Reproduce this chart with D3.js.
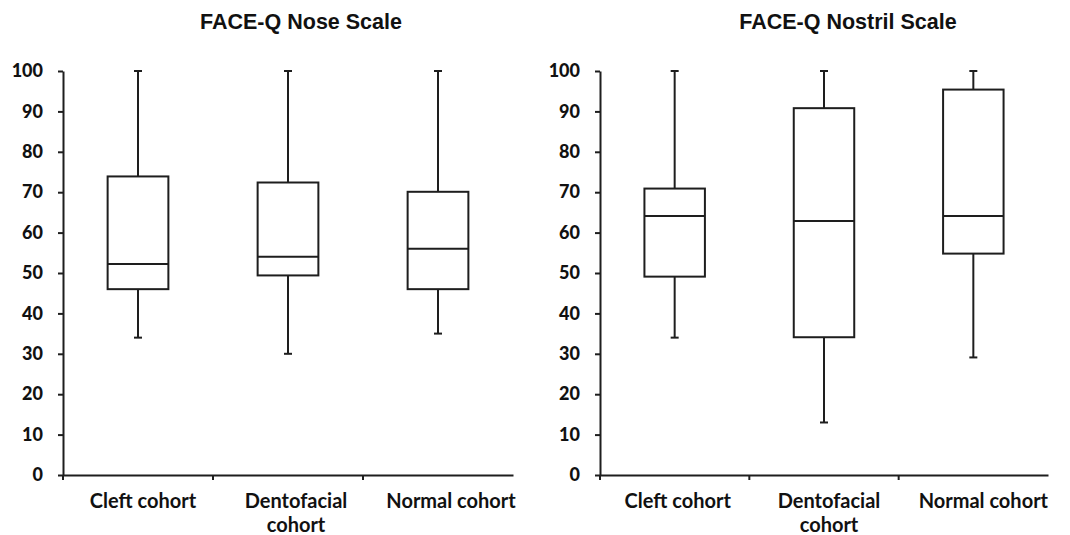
<!DOCTYPE html>
<html><head><meta charset="utf-8">
<script src="https://cdn.jsdelivr.net/npm/d3@7"></script>
<style>
body{margin:0;background:#fff;}
svg text{fill:#111;}
</style></head>
<body>
<svg id="chart" width="1070" height="535"></svg>
<script>
const categories = ["Cleft cohort", "Dentofacial cohort", "Normal cohort"];
const yTicks = [0,10,20,30,40,50,60,70,80,90,100];

// FACE-Q Nose Scale
const noseMin    = [34, 30, 35];
const noseQ1     = [46, 49.4, 46];
const noseMedian = [52.2, 54, 56];
const noseQ3     = [73.9, 72.4, 70.1];
const noseMax    = [100, 100, 100];

// FACE-Q Nostril Scale
const nostrilMin    = [34, 13, 29.1];
const nostrilQ1     = [49.1, 34.1, 54.8];
const nostrilMedian = [64.1, 62.9, 64.1];
const nostrilQ3     = [70.9, 90.8, 95.4];
const nostrilMax    = [100, 100, 100];

const svg = d3.select("#chart");
const stroke = "#1e1e1e";

function panel(opts){
  const {x0, x1, title, titleX, labelShift, mins, q1s, meds, q3s, maxs} = opts;
  const y = d3.scaleLinear().domain([0,100]).range([475, 71]);
  const x = d3.scaleBand().domain(categories).range([x0, x1]).paddingInner(0).paddingOuter(0);
  const g = svg.append("g");

  // title
  g.append("text").attr("x", titleX).attr("y", 29).attr("text-anchor","middle")
    .style("font-family","'Liberation Sans', Arial, sans-serif").style("font-weight","bold")
    .style("font-size","21.5px").text(title);

  // y axis
  const yAxis = d3.axisLeft(y).tickValues(yTicks).tickSize(5).tickPadding(15).tickSizeOuter(0);
  const ya = g.append("g").attr("transform",`translate(${x0},0)`).call(yAxis);
  ya.select(".domain").attr("stroke",stroke).attr("stroke-width",2);
  ya.selectAll(".tick line").attr("stroke",stroke).attr("stroke-width",2);
  ya.selectAll(".tick text").style("font-family","Lato, 'Open Sans', sans-serif")
    .style("font-weight","900").style("font-size","18px").attr("fill","#111");
  // y-axis extension below x axis
  g.append("line").attr("x1",x0).attr("x2",x0).attr("y1",y(0)).attr("y2",y(0)+5)
    .attr("stroke",stroke).attr("stroke-width",2);

  // x axis
  const xAxis = d3.axisBottom(x).tickSize(0).tickPadding(19).tickSizeOuter(0);
  const xa = g.append("g").attr("transform",`translate(0,${y(0)})`).call(xAxis);
  xa.select(".domain").attr("stroke",stroke).attr("stroke-width",2);
  xa.selectAll(".tick text").style("font-family","Lato, 'Open Sans', sans-serif")
    .style("font-weight","bold").style("font-size","20px").attr("fill","#111")
    .each(function(d,i){
      const t = d3.select(this);
      t.attr("x", labelShift[i]);
      if (d === "Dentofacial cohort") {
        t.text(null);
        t.append("tspan").attr("x",labelShift[i]).attr("dy","0.71em").text("Dentofacial");
        t.append("tspan").attr("x",labelShift[i]).attr("dy","1.2em").text("cohort");
        t.attr("dy", null);
      }
    });
  // category boundary ticks
  categories.slice(1).forEach(c => {
    g.append("line").attr("x1",x(c)).attr("x2",x(c)).attr("y1",y(0)).attr("y2",y(0)+5)
      .attr("stroke",stroke).attr("stroke-width",2);
  });

  const bw = x.bandwidth()*0.405;
  const capW = 8;
  categories.forEach((c,i) => {
    const cx = x(c) + x.bandwidth()/2;
    // whiskers
    g.append("line").attr("x1",cx).attr("x2",cx).attr("y1",y(maxs[i])).attr("y2",y(q3s[i]))
      .attr("stroke",stroke).attr("stroke-width",2);
    g.append("line").attr("x1",cx).attr("x2",cx).attr("y1",y(q1s[i])).attr("y2",y(mins[i]))
      .attr("stroke",stroke).attr("stroke-width",2);
    [maxs[i], mins[i]].forEach(v => {
      g.append("line").attr("x1",cx-capW/2).attr("x2",cx+capW/2).attr("y1",y(v)).attr("y2",y(v))
        .attr("stroke",stroke).attr("stroke-width",2);
    });
    // box
    g.append("rect").attr("x",cx-bw/2).attr("y",y(q3s[i])).attr("width",bw)
      .attr("height",y(q1s[i])-y(q3s[i])).attr("fill","#fff").attr("stroke",stroke).attr("stroke-width",2);
    // median
    g.append("line").attr("x1",cx-bw/2).attr("x2",cx+bw/2).attr("y1",y(meds[i])).attr("y2",y(meds[i]))
      .attr("stroke",stroke).attr("stroke-width",2);
  });
}

panel({x0:63, x1:513, title:"FACE-Q Nose Scale", titleX:301, labelShift:[5,8,13],
  mins:noseMin, q1s:noseQ1, meds:noseMedian, q3s:noseQ3, maxs:noseMax});
panel({x0:600, x1:1048, title:"FACE-Q Nostril Scale", titleX:848, labelShift:[3,5,10],
  mins:nostrilMin, q1s:nostrilQ1, meds:nostrilMedian, q3s:nostrilQ3, maxs:nostrilMax});
</script>
</body></html>
